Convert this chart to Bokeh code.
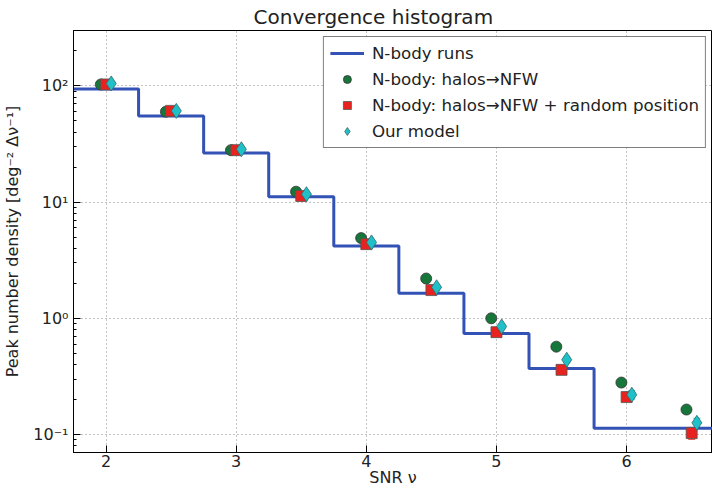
from bokeh.plotting import figure
from bokeh.models import (Legend, LegendItem, Whisker, ColumnDataSource, FixedTicker, TeeHead)
from bokeh.embed import file_html
from bokeh.resources import INLINE

# ---- data ----
bin_centers = [2.0, 2.5, 3.0, 3.5, 4.0, 4.5, 5.0, 5.5, 6.0, 6.5]
bin_edges = [1.75, 2.25, 2.75, 3.25, 3.75, 4.25, 4.75, 5.25, 5.75, 6.25, 6.75]
nbody_runs = [94, 55, 26.5, 11.1, 4.2, 1.64, 0.74, 0.37, 0.113, 0.113]
halos_nfw = [103, 60, 28, 12.3, 4.9, 2.2, 1.0, 0.57, 0.28, 0.164]
halos_nfw_random = [103, 61, 28, 11.3, 4.35, 1.75, 0.76, 0.36, 0.21, 0.103]
halos_nfw_random_err = [2.0, 1.2, 0.6, 0.3, 0.12, 0.05, 0.025, 0.015, 0.012, 0.012]
our_model = [105, 61, 28.5, 11.7, 4.5, 1.85, 0.85, 0.44, 0.22, 0.126]
our_model_err = [3.0, 1.8, 0.9, 0.4, 0.18, 0.08, 0.04, 0.025, 0.018, 0.012]
y_tick_values = [0.1, 1, 10, 100]
y_tick_labels = ["10⁻¹", "10⁰", "10¹", "10²"]
x_tick_values = [2, 3, 4, 5, 6]

FONT = "DejaVu Sans"
BLUE = "#3352b5"
GREEN = "#17773a"
RED = "#e8231f"
CYAN = "#1fc0c8"

p = figure(width=712, height=489, y_axis_type="log",
           x_range=(1.75, 6.66), y_range=(0.07, 300),
           output_backend="svg", toolbar_location=None,
           title="Convergence histogram",
           min_border_left=73, min_border_right=0, min_border_top=30, min_border_bottom=37)

p.title.text_font = FONT
p.title.text_font_size = "20px"
p.title.text_font_style = "normal"
p.title.text_color = "#222222"
p.title.align = "left"
p.title.offset = 180
p.title.standoff = 4

p.outline_line_color = "black"
p.outline_line_width = 1
p.background_fill_color = "white"
p.border_fill_color = "white"

# grid
for g in (p.xgrid, p.ygrid):
    g.grid_line_color = "#888888"
    g.grid_line_dash = "1 3"
    g.grid_line_width = 1
p.ygrid.minor_grid_line_color = None

# axes
p.xaxis.ticker = FixedTicker(ticks=x_tick_values)
minor = [m * 10.0 ** k for k in range(-2, 3) for m in range(2, 10)]
p.yaxis.ticker = FixedTicker(ticks=y_tick_values, minor_ticks=minor)
p.yaxis.major_label_overrides = {v: lab for v, lab in zip(y_tick_values, y_tick_labels)}

for ax in (p.xaxis[0], p.yaxis[0]):
    ax.axis_line_color = "black"
    ax.major_tick_in = 7
    ax.major_tick_out = 0
    ax.minor_tick_in = 3
    ax.minor_tick_out = 0
    ax.major_tick_line_color = "black"
    ax.minor_tick_line_color = "black"
    ax.major_label_text_font = FONT
    ax.major_label_text_font_size = "16px"
    ax.major_label_text_color = "#222222"
    ax.axis_label_text_font = FONT
    ax.axis_label_text_font_size = "16px"
    ax.axis_label_text_font_style = "normal"
    ax.axis_label_text_color = "#222222"
    ax.major_label_standoff = 5
    ax.axis_label_standoff = 8
p.xaxis.minor_tick_line_color = None
p.xaxis.major_label_standoff = 2
p.xaxis.axis_label_standoff = -2
p.xaxis.axis_label = "SNR ν"
p.yaxis.axis_label = "Peak number density [deg⁻² Δν⁻¹]"

# step histogram
step_y = nbody_runs + [nbody_runs[-1]]
r_line = p.step(x=bin_edges, y=step_y, mode="after", line_color=BLUE, line_width=3)

dx = 0.04
xs_g = [c - dx for c in bin_centers]
xs_r = list(bin_centers)
xs_c = [c + dx for c in bin_centers]

r_src = ColumnDataSource(dict(x=xs_r, y=halos_nfw_random,
                              lo=[v - e for v, e in zip(halos_nfw_random, halos_nfw_random_err)],
                              hi=[v + e for v, e in zip(halos_nfw_random, halos_nfw_random_err)]))
c_src = ColumnDataSource(dict(x=xs_c, y=our_model,
                              lo=[v - e for v, e in zip(our_model, our_model_err)],
                              hi=[v + e for v, e in zip(our_model, our_model_err)]))

wr = Whisker(source=r_src, base="x", upper="hi", lower="lo", dimension="height",
             line_color=RED, line_width=1,
             upper_head=TeeHead(size=7, line_color=RED), lower_head=TeeHead(size=7, line_color=RED))
wc = Whisker(source=c_src, base="x", upper="hi", lower="lo", dimension="height",
             line_color=CYAN, line_width=1,
             upper_head=TeeHead(size=7, line_color=CYAN), lower_head=TeeHead(size=7, line_color=CYAN))
p.add_layout(wr)
p.add_layout(wc)

r_green = p.scatter(x=xs_g, y=halos_nfw, marker="circle", size=11,
                    fill_color=GREEN, line_color="#333333", line_width=0.8)
r_red = p.scatter(x="x", y="y", source=r_src, marker="square", size=11,
                  fill_color=RED, line_color="#555555", line_width=0.8)
r_cyan = p.scatter(x="x", y="y", source=c_src, marker="diamond", size=15,
                   fill_color=CYAN, line_color="#336666", line_width=0.8)

legend = Legend(items=[
    LegendItem(label="N-body runs", renderers=[r_line]),
    LegendItem(label="N-body: halos→NFW", renderers=[r_green]),
    LegendItem(label="N-body: halos→NFW + random position", renderers=[r_red]),
    LegendItem(label="Our model", renderers=[r_cyan]),
], location="top_right")
legend.label_text_font = FONT
legend.label_text_font_size = "16.7px"
legend.label_text_color = "#222222"
legend.border_line_color = "black"
legend.border_line_width = 1
legend.background_fill_alpha = 1
legend.glyph_width = 34
legend.glyph_height = 20
legend.label_standoff = 8
legend.spacing = 6
legend.padding = 6
legend.margin = 6
legend.label_height = 20
p.add_layout(legend, "center")

html = file_html(p, INLINE)
with open("out.html", "w") as f:
    f.write(html)
